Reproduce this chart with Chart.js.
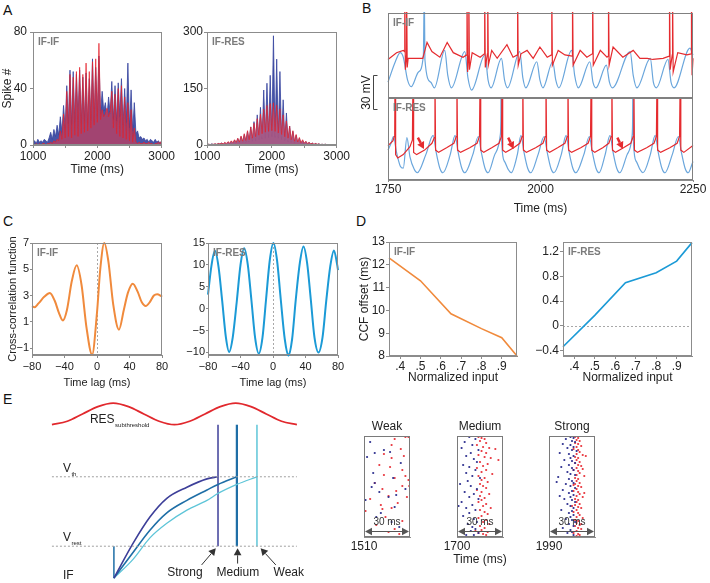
<!DOCTYPE html>
<html>
<head>
<meta charset="utf-8">
<script src="https://cdn.jsdelivr.net/npm/chart.js@4.4.1/dist/chart.umd.min.js"></script>
<style>
  html, body { margin: 0; padding: 0; background: #fff; }
  body { width: 710px; height: 583px; position: relative; overflow: hidden; font-family: Arial, "Liberation Sans", sans-serif; }
  canvas { position: absolute; }
  .panel { position: absolute; font-size: 14px; line-height: 14px; color: #111; }
</style>
</head>
<body>
<div class="panel" style="left:3px;top:3px">A</div>
<div class="panel" style="left:362px;top:1px">B</div>
<div class="panel" style="left:3px;top:214px">C</div>
<div class="panel" style="left:356px;top:214px">D</div>
<div class="panel" style="left:3px;top:392px">E</div>

<canvas id="aIf" style="left:0;top:20px" width="176" height="157"></canvas>
<canvas id="aRes" style="left:177px;top:20px" width="174" height="157"></canvas>
<canvas id="bTop" style="left:350px;top:0" width="360" height="115"></canvas>
<canvas id="bBot" style="left:350px;top:98px" width="360" height="118"></canvas>
<canvas id="cIf" style="left:0;top:233px" width="174" height="157"></canvas>
<canvas id="cRes" style="left:176px;top:233px" width="174" height="157"></canvas>
<canvas id="dIf" style="left:355px;top:232px" width="172" height="153"></canvas>
<canvas id="dRes" style="left:527px;top:232px" width="175" height="153"></canvas>
<canvas id="eSchema" style="left:0;top:390px" width="340" height="193"></canvas>
<canvas id="rWeak" style="left:344px;top:418px" width="78" height="133"></canvas>
<canvas id="rMed" style="left:430px;top:418px" width="92" height="149"></canvas>
<canvas id="rStrong" style="left:529px;top:418px" width="78" height="133"></canvas>

<script>
// ---- A: spike histograms, 25 ms bins from 1000 ms ----
const binStart = 1000, binWidth = 25;
const ifIfBlue = [
  2, 3, 1, 4, 2, 3, 2, 4, 3, 2,
  5, 9, 4, 11, 6, 14, 7, 20, 9, 28,
  12, 42, 15, 53, 14, 52, 16, 50, 18, 53,
  15, 48, 17, 51, 14, 47, 18, 61, 16, 55,
  20, 63, 22, 38, 24, 30, 20, 34, 22, 45,
  18, 42, 17, 44, 20, 47, 14, 40, 16, 58,
  12, 39, 10, 30, 8, 10, 5, 6, 4, 5,
  3, 4, 2, 4, 3, 2, 4, 2, 3, 1,
  3];
const ifIfRed = [
  1, 0, 1, 0, 1, 0, 1, 1, 0, 1,
  1, 2, 1, 3, 2, 4, 3, 10, 4, 22,
  5, 38, 6, 50, 5, 48, 7, 52, 6, 55,
  8, 50, 9, 58, 10, 52, 12, 59, 14, 61,
  16, 72, 18, 25, 20, 22, 26, 20, 24, 38,
  12, 36, 8, 40, 6, 42, 5, 34, 4, 30,
  3, 25, 2, 12, 2, 1, 2, 1, 1, 2,
  1, 1, 2, 1, 1, 0, 1, 1, 2, 1,
  3];
const ifResBlue = [
  1, 2, 1, 3, 1, 3, 1, 4, 2, 5,
  2, 6, 2, 8, 3, 10, 3, 13, 4, 17,
  5, 22, 6, 28, 7, 36, 8, 48, 10, 62,
  12, 80, 14, 100, 16, 146, 18, 164, 20, 185,
  22, 290, 20, 228, 18, 195, 14, 120, 12, 85,
  9, 50, 7, 36, 5, 26, 4, 18, 3, 12,
  3, 9, 2, 7, 2, 5, 1, 4, 1, 3,
  1, 2, 1, 2, 1, 1, 1, 1, 0, 1,
  1];
const ifResRed = [
  1, 2, 1, 2, 2, 3, 2, 4, 3, 5,
  3, 7, 4, 9, 5, 11, 6, 14, 7, 18,
  8, 24, 10, 30, 12, 38, 14, 48, 18, 58,
  22, 70, 26, 82, 30, 95, 34, 105, 36, 110,
  38, 112, 36, 106, 32, 96, 28, 80, 22, 64,
  18, 50, 14, 38, 10, 28, 8, 20, 6, 14,
  5, 10, 4, 7, 3, 5, 2, 4, 2, 3,
  1, 2, 1, 2, 1, 1, 1, 1, 1, 1,
  1];
const aXTicks = [1000, 1500, 2000, 2500, 3000];
const aXLabels = ['1000', '', '2000', '', '3000'];
const aIfYTicks = [0, 40, 80];
const aResYTicks = [0, 150, 300];

// ---- B: membrane traces [time ms, mV] ----
const bIfRed = [[1750,-41],[1764,-35],[1775,-33],[1777,-34],[1777.5,20],[1778.5,-50],[1780,-38],[1780.5,20],[1781.5,-48],[1783,-40],[1807,-40],[1814,-26],[1822,-34],[1835,-39],[1847,-26],[1857,-35],[1873,-39],[1879,-37],[1879.5,20],[1880.5,-52],[1882,-38],[1882.5,20],[1883.5,-50],[1888,-35],[1901,-39],[1908,-36],[1908.5,20],[1909.5,-48],[1913,-36],[1913.5,20],[1914.5,-46],[1920,-33],[1929,-40],[1945,-28],[1955,-39],[1962,-37],[1962.5,20],[1963.5,-46],[1968,-36],[1978,-33],[1988,-40],[1999,-30],[2011,-39],[2018,-37],[2018.5,20],[2019.5,-46],[2029,-33],[2040,-37],[2052,-38],[2052.5,20],[2053.5,-46],[2065,-33],[2076,-39],[2085,-36],[2085.5,20],[2086.5,-46],[2098,-33],[2109,-39],[2111,-38],[2111.5,20],[2112.5,-46],[2119,-30],[2135,-39],[2152,-33],[2163,-40],[2175,-40],[2184,-41],[2201,-40],[2211,-38],[2211.5,20],[2212.5,-50],[2216,-37],[2216.5,20],[2217.5,-52],[2225,-35],[2240,-37],[2247,-36],[2247.5,20],[2248.5,-55],[2250,-40]];
const bIfBlue = [[1750,-61],[1762,-43],[1770,-35],[1775,-39],[1782,-59],[1788,-65],[1800,-52],[1808,-37],[1809.5,20],[1810.5,-41],[1820,-61],[1826,-66],[1843,-33],[1848,-55],[1854,-66],[1876,-34],[1881,-57],[1887,-68],[1909,-37],[1914,-59],[1919,-66],[1936,-40],[1941,-59],[1946,-66],[1966,-34],[1971,-57],[1976,-66],[1994,-43],[1999,-59],[2004,-66],[2020,-43],[2025,-59],[2030,-66],[2051,-33],[2056,-55],[2062,-66],[2081,-43],[2086,-61],[2091,-66],[2108,-46],[2113,-61],[2118,-66],[2147,-34],[2152,-55],[2158,-66],[2180,-40],[2185,-61],[2190,-66],[2209,-41],[2214,-61],[2219,-66],[2245,-31],[2250,-37]];
const bResRed = [[1750,-42],[1758,-38],[1761,-33],[1761.5,20],[1762.5,-50],[1766,-53],[1775,-50],[1786,-43],[1790,-37],[1791,20],[1792,-48],[1797,-50],[1810,-46],[1822,-40],[1826,-35],[1827,20],[1828,-46],[1833,-48],[1846,-44],[1858,-40],[1862,-34],[1863,20],[1864,-46],[1869,-48],[1884,-44],[1896,-40],[1900,-34],[1901,20],[1902,-46],[1907,-48],[1920,-44],[1932,-40],[1936,-34],[1937,20],[1938,-46],[1943,-48],[1956,-44],[1966,-40],[1970,-34],[1971,20],[1972,-46],[1977,-48],[1992,-44],[2004,-40],[2008,-34],[2009,20],[2010,-46],[2015,-48],[2028,-44],[2040,-40],[2044,-34],[2045,20],[2046,-46],[2051,-48],[2066,-44],[2078,-40],[2082,-34],[2083,20],[2084,-46],[2089,-48],[2102,-44],[2112,-40],[2116,-34],[2117,20],[2118,-46],[2123,-48],[2136,-44],[2148,-40],[2152,-34],[2153,20],[2154,-46],[2159,-48],[2174,-44],[2186,-40],[2190,-34],[2191,20],[2192,-46],[2197,-48],[2212,-44],[2224,-40],[2228,-34],[2229,20],[2230,-46],[2235,-48],[2250,-42]];
const bResBlue = [[1750,-46],[1755,-40],[1759,-34],[1764,-48],[1770,-60],[1775,-62],[1781,-35],[1786,-52],[1793,-63],[1798,-66],[1812,-50],[1824,-33],[1829,-48],[1835,-62],[1840,-66],[1852,-50],[1860,-33],[1865,-48],[1871,-62],[1876,-66],[1889,-50],[1898,-34],[1903,-48],[1909,-62],[1914,-66],[1925,-50],[1934,-33],[1935,-20],[1935.5,20],[1936.5,-40],[1941,-56],[1947,-63],[1952,-66],[1962,-50],[1968,-33],[1973,-48],[1979,-62],[1984,-66],[1996,-50],[2006,-34],[2011,-48],[2017,-62],[2022,-66],[2034,-50],[2042,-33],[2047,-48],[2053,-62],[2058,-66],[2071,-50],[2080,-34],[2085,-48],[2091,-62],[2096,-66],[2106,-50],[2114,-33],[2119,-48],[2125,-62],[2130,-66],[2142,-50],[2150,-34],[2151,-20],[2151.5,20],[2152.5,-40],[2157,-56],[2163,-63],[2168,-66],[2180,-50],[2188,-33],[2193,-48],[2199,-62],[2204,-66],[2216,-50],[2226,-34],[2231,-48],[2237,-62],[2242,-66],[2250,-56]];
const bXTicks = [1750, 2000, 2250];
const bArrows = [[1799, -35, 1809, -45], [1947, -35, 1956, -45], [2126, -35, 2135, -45]];

// ---- C: cross-correlation [lag ms, value] ----
const cIfIf = [[-80,2.2],[-77,2.1],[-72,2.4],[-65,2.9],[-58,3.2],[-52,2.6],[-47,1.7],[-42,1.1],[-37,1.9],[-31,4.1],[-25,5.3],[-19,3.8],[-13,0.6],[-6,-1.5],[0,1.7],[4,5.0],[9,7.0],[14,5.6],[20,2.3],[27,0.4],[33,1.9],[38,3.2],[44,3.9],[50,3.3],[55,2.5],[60,2.2],[65,2.5],[70,3.0],[74,3.1],[78,3.0],[80,2.9]];
const cIfRes = [[-80,3.2],[-76,9.5],[-71.5,13.2],[-67,9.5],[-62.5,1.7],[-58,-6.5],[-54,-9.9],[-49.5,-6.5],[-44.5,1.8],[-40,10],[-35.5,13.8],[-31,10],[-26.5,1.8],[-22,-6.7],[-17.5,-10.3],[-13,-6.7],[-8.5,2.2],[-4,11],[0.5,15],[5,11],[9.5,2.2],[14.5,-7],[19,-10.7],[23.5,-7],[28,2],[33,10.4],[37.5,14.2],[42,10.4],[46.5,2.1],[51,-6.5],[56,-10],[61,-6.5],[65.5,1.7],[70.5,9.7],[75,13.3],[79,10],[80,8.8]];
const cXTicks = [-80, -40, 0, 40, 80];
const cXLabels = ['\u221280', '\u221240', '0', '40', '80'];
const cIfYTicks = [-1, 1, 3, 5, 7];
const cIfYLabels = ['\u22121', '1', '3', '5', '7'];
const cResYTicks = [-10, -5, 0, 5, 10, 15];
const cResYLabels = ['\u221210', '\u22125', '0', '5', '10', '15'];

// ---- D: CCF offset vs normalized input ----
const dInput = [0.345, 0.5, 0.65, 0.8, 0.9, 0.975];
const dIfIf = [12.3, 11.3, 9.85, 9.2, 8.8, 8.0];
const dIfRes = [-0.34, 0.17, 0.7, 0.86, 1.05, 1.35];
const dXTicks = [0.4, 0.5, 0.6, 0.7, 0.8, 0.9];
const dXLabels = ['.4', '.5', '.6', '.7', '.8', '.9'];
const dIfYTicks = [8, 9, 10, 11, 12, 13];
const dResYTicks = [-0.4, 0, 0.4, 0.8, 1.2];
const dResYLabels = ['\u22120.4', '0', '0.4', '0.8', '1.2'];

// ---- E: schematic (arbitrary time / voltage units) ----
const resT = [0, 6.25, 12.5, 18.75, 25, 31.25, 37.5, 43.75, 50, 56.25, 62.5, 68.75, 75, 81.25, 87.5, 93.75, 100];
const resV = [1.75, 1.80, 1.905, 2.01, 2.06, 2.01, 1.905, 1.80, 1.75, 1.80, 1.905, 2.01, 2.06, 2.01, 1.905, 1.80, 1.75];
const ifT = [25.3, 33.1, 40, 46.9, 55.1, 63.3, 67.8, 75.5, 83.7];
const ifStrong = [-0.46, 0.04, 0.42, 0.69, 0.85, 0.97, 1.0];
const ifMedium = [-0.46, -0.09, 0.23, 0.48, 0.66, 0.81, 0.89, 1.0];
const ifWeak = [-0.46, -0.19, 0.12, 0.33, 0.52, 0.66, 0.76, 0.89, 1.0];
const fireT = [67.8, 75.5, 83.7];
const vTh = 1, vRest = 0, vTop = 1.75, vStart = -0.46, ifOnset = 25.3;

// ---- E: rasters [time ms, trial] ----
const weakBlue = [[1514,6],[1517,17],[1523,14],[1512,21],[1527,16],[1516,37],[1517,47],[1515,51],[1520,56],[1531,59],[1511,64],[1526,61],[1529,42],[1534,27],[1521,77],[1528,86],[1533,91],[1518,81],[1530,71],[1537,53]];
const weakRed = [[1530,3],[1537,1],[1539,1],[1528,9],[1534,13],[1523,18],[1528,22],[1536,20],[1520,29],[1527,31],[1535,34],[1523,39],[1530,42],[1537,40],[1539,44],[1517,47],[1535,50],[1539.5,50],[1522,53],[1531,55],[1526,60],[1514,63],[1532,67],[1528,72],[1522,73],[1524,81],[1511,75],[1535,85],[1530,93],[1533,98],[1521,69],[1538,61],[1518,89],[1526,96]];
const medBlue = [[1708,1],[1712,3],[1705,6],[1710,9],[1703,12],[1714,14],[1709,17],[1706,20],[1711,23],[1713,26],[1704,29],[1708,31],[1712,34],[1706,37],[1710,40],[1715,42],[1707,45],[1702,48],[1709,50],[1713,53],[1705,56],[1711,58],[1708,61],[1714,63],[1703,66],[1710,69],[1706,72],[1712,74],[1708,77],[1704,80],[1711,83],[1713,86],[1707,88],[1710,91],[1712,93],[1701,70],[1709,95],[1714,97],[1706,99],[1711,99]];
const medRed = [[1714,1],[1716,2],[1718,3],[1715,5],[1719,7],[1713,9],[1717,11],[1721,12],[1725,13],[1716,15],[1719,17],[1714,19],[1718,21],[1722,22],[1727,24],[1715,26],[1720,28],[1717,30],[1713,32],[1719,34],[1716,36],[1723,38],[1714,40],[1718,42],[1716,44],[1720,46],[1715,48],[1717,50],[1719,52],[1713,54],[1716,56],[1721,58],[1715,60],[1718,62],[1716,64],[1714,66],[1719,68],[1717,70],[1722,72],[1715,74],[1718,76],[1720,78],[1716,80],[1714,82],[1719,84],[1717,86],[1721,88],[1715,90],[1718,92],[1716,94],[1720,96],[1714,97],[1717,98],[1719,99],[1712,95]];
const strongBlue = [[2004,1],[2006,2],[2001,3],[2005,5],[2007,6],[1999,8],[2004,9],[2006,11],[2002,12],[2005,14],[2008,15],[1997,17],[2003,18],[2006,20],[2004,22],[2000,24],[2005,25],[2007,27],[2003,29],[1998,31],[2005,32],[2006,34],[2002,36],[2004,38],[2007,39],[1996,41],[2003,43],[2005,45],[2006,47],[2001,48],[2004,50],[2007,52],[1999,54],[2005,55],[2003,57],[2006,59],[2004,61],[2000,63],[2005,64],[2007,66],[2002,68],[2004,70],[2006,72],[1998,74],[2005,75],[2003,77],[2006,79],[2004,81],[2001,83],[2005,84],[2007,86],[2003,88],[2006,90],[1999,92],[2004,94],[2005,96],[2002,97],[2006,99],[1995,46],[1997,60]];
const strongRed = [[2007,1],[2009,2],[2008,4],[2010,5],[2007,7],[2009,8],[2011,10],[2008,11],[2006,13],[2009,14],[2010,16],[2008,18],[2012,19],[2007,21],[2009,22],[2008,24],[2010,26],[2007,27],[2009,29],[2011,30],[2008,32],[2006,34],[2009,35],[2010,37],[2008,39],[2013,40],[2007,42],[2009,43],[2008,45],[2010,47],[2007,48],[2009,50],[2011,51],[2008,53],[2006,55],[2009,56],[2010,58],[2008,60],[2012,61],[2007,63],[2009,64],[2008,66],[2010,68],[2007,69],[2009,71],[2011,72],[2008,74],[2006,76],[2009,77],[2010,79],[2008,81],[2012,82],[2007,84],[2009,85],[2008,87],[2010,89],[2007,90],[2009,92],[2011,93],[2008,95],[2006,97],[2009,98],[2010,99],[2008,100],[2013,57],[2012,33],[2011,88],[2014,20],[2005,70],[2006,49]];

// ---- styling ----
const FONT = 'Arial, "Liberation Sans", sans-serif';
const AXIS = '#8c8c8c';
const RED = '#e52b2f', BLUE_A = '#37459f', BLUE_B = '#6aa6dc';
const ORANGE = '#f08a3c', CYAN = '#1b9ad6';

Chart.defaults.font.family = FONT;
Chart.defaults.font.size = 12;
Chart.defaults.color = '#222';
Chart.defaults.animation = false;
Chart.defaults.responsive = false;
Chart.defaults.plugins.legend.display = false;
Chart.defaults.plugins.tooltip.enabled = false;

function arrow(ctx, x1, y1, x2, y2, color, lw, head) {
  const ang = Math.atan2(y2 - y1, x2 - x1);
  const bx = x2 - head * Math.cos(ang), by = y2 - head * Math.sin(ang);
  ctx.strokeStyle = color; ctx.fillStyle = color; ctx.lineWidth = lw;
  ctx.beginPath(); ctx.moveTo(x1, y1); ctx.lineTo(bx, by); ctx.stroke();
  const s = head * 0.55;
  ctx.beginPath();
  ctx.moveTo(x2, y2);
  ctx.lineTo(bx + s * Math.sin(ang), by - s * Math.cos(ang));
  ctx.lineTo(bx - s * Math.sin(ang), by + s * Math.cos(ang));
  ctx.closePath(); ctx.fill();
}

// frames, inner tags, dotted zero lines and annotations
const decor = {
  id: 'decor',
  beforeDatasetsDraw(chart, args, o) {
    const { ctx, chartArea: a, scales: { x, y } } = chart;
    ctx.save();
    ctx.strokeStyle = '#a8a8a8'; ctx.lineWidth = 1; ctx.setLineDash([2, 2]);
    if (o.zeroX) {
      const px = Math.round(x.getPixelForValue(0)) + 0.5;
      ctx.beginPath(); ctx.moveTo(px, a.top); ctx.lineTo(px, a.bottom); ctx.stroke();
    }
    if (o.zeroY) {
      const py = Math.round(y.getPixelForValue(0)) + 0.5;
      ctx.beginPath(); ctx.moveTo(a.left, py); ctx.lineTo(a.right, py); ctx.stroke();
    }
    ctx.restore();
  },
  afterDraw(chart, args, o) {
    const { ctx, chartArea: a, scales: { x, y } } = chart;
    ctx.save();
    if (o.frame) {
      ctx.strokeStyle = o.frame; ctx.lineWidth = 1;
      ctx.strokeRect(Math.round(a.left) + 0.5, Math.round(a.top) + 0.5,
        Math.round(a.right - a.left) - 1, Math.round(a.bottom - a.top) - 1);
    }
    if (o.tag) {
      ctx.font = 'bold 10px ' + FONT; ctx.fillStyle = '#7b7b7b';
      ctx.textAlign = 'left'; ctx.textBaseline = 'top';
      ctx.fillText(o.tag, a.left + 5, a.top + 5);
    }
    if (o.heading) {
      ctx.font = '12px ' + FONT; ctx.fillStyle = '#222';
      ctx.textAlign = 'center'; ctx.textBaseline = 'alphabetic';
      ctx.fillText(o.heading, (a.left + a.right) / 2, a.top - 6);
    }
    if (o.xtitle) {
      ctx.font = '12px ' + FONT; ctx.fillStyle = '#222';
      ctx.textAlign = 'center'; ctx.textBaseline = 'middle';
      ctx.fillText(o.xtitle, (a.left + a.right) / 2, a.bottom + 23);
    }
    if (o.ytitle) {
      ctx.save();
      ctx.translate(o.ytitle.x, (a.top + a.bottom) / 2);
      ctx.rotate(-Math.PI / 2);
      ctx.font = o.ytitle.size + 'px ' + FONT; ctx.fillStyle = '#222';
      ctx.textAlign = 'center'; ctx.textBaseline = 'middle';
      ctx.fillText(o.ytitle.text, 0, 0);
      ctx.restore();
    }
    if (o.scaleBar) {
      const sb = o.scaleBar;
      const bx = a.left + sb.dx + 0.5;
      const y0 = Math.round(y.getPixelForValue(sb.from)) + 0.5;
      const y1 = Math.round(y.getPixelForValue(sb.from - sb.len)) + 0.5;
      ctx.strokeStyle = '#444'; ctx.lineWidth = 1;
      ctx.beginPath(); ctx.moveTo(bx + 4, y0); ctx.lineTo(bx, y0); ctx.lineTo(bx, y1); ctx.lineTo(bx + 4, y1); ctx.stroke();
      ctx.save();
      ctx.translate(bx - 7, (y0 + y1) / 2); ctx.rotate(-Math.PI / 2);
      ctx.font = '12px ' + FONT; ctx.fillStyle = '#222';
      ctx.textAlign = 'center'; ctx.textBaseline = 'middle';
      ctx.fillText(sb.label, 0, 0);
      ctx.restore();
    }
    (o.arrows || []).forEach(r => arrow(ctx,
      x.getPixelForValue(r.pts[0]), y.getPixelForValue(r.pts[1]),
      x.getPixelForValue(r.pts[2]), y.getPixelForValue(r.pts[3]),
      r.color, r.width, r.head));
    (o.texts || []).forEach(t => {
      const px = x.getPixelForValue(t.x), py = y.getPixelForValue(t.y);
      ctx.font = (t.size || 12) + 'px ' + FONT; ctx.fillStyle = '#222';
      ctx.textAlign = t.align || 'left'; ctx.textBaseline = 'middle';
      ctx.fillText(t.text, px, py);
      if (t.sub) {
        const w = ctx.measureText(t.text).width;
        ctx.font = (t.subSize || 6) + 'px ' + FONT; ctx.textAlign = 'left';
        ctx.fillText(t.sub, px + w + 0.5, py + 5);
      }
    });
    if (o.span) {
      const py = Math.round(y.getPixelForValue(o.span.y)) + 0.5;
      arrow(ctx, (a.left + a.right) / 2, py, a.left + 1, py, '#555', 1, 7);
      arrow(ctx, (a.left + a.right) / 2, py, a.right - 1, py, '#555', 1, 7);
      ctx.font = '10px ' + FONT; ctx.fillStyle = '#333';
      ctx.textAlign = 'center'; ctx.textBaseline = 'middle';
      ctx.fillText(o.span.label, (a.left + a.right) / 2, y.getPixelForValue(o.span.ly));
    }
    ctx.restore();
  }
};
Chart.register(decor);

const el = id => document.getElementById(id);
const pts = arr => arr.map(p => ({ x: p[0], y: p[1] }));
const zip = (xs, ys) => ys.map((v, i) => ({ x: xs[i], y: v }));

function xAxis(c) {
  return {
    type: 'linear', position: 'bottom', min: c.min, max: c.max,
    afterBuildTicks: s => { s.ticks = c.ticks.map(v => ({ value: v })); },
    afterFit: s => { s.height = c.h; },
    grid: { drawOnChartArea: false, drawTicks: c.tl > 0, tickLength: c.tl, color: AXIS },
    border: { color: AXIS },
    ticks: { padding: c.pad, maxRotation: 0, autoSkip: false, font: { size: c.fs || 12 }, callback: (v, i) => c.labels[i] },
    title: { display: !!c.title, text: c.title || '', padding: 0, font: { size: c.tfs || 12 } }
  };
}
function yAxis(c) {
  return {
    type: 'linear', position: 'left', min: c.min, max: c.max,
    afterBuildTicks: s => { s.ticks = c.ticks.map(v => ({ value: v })); },
    afterFit: s => { s.width = c.w; },
    grid: { drawOnChartArea: false, drawTicks: c.tl > 0, tickLength: c.tl, color: AXIS },
    border: { color: AXIS },
    ticks: { padding: c.pad, autoSkip: false, font: { size: c.fs || 12 }, callback: (v, i) => c.labels[i] },
    title: { display: !!c.title, text: c.title || '', padding: { top: c.tpad || 0, bottom: 0 }, font: { size: c.tfs || 12 } }
  };
}

// ---------- A ----------
function histSet(values, line, fill, order) {
  return {
    data: values.map((v, i) => ({ x: binStart + i * binWidth, y: v })),
    borderColor: line, backgroundColor: fill, borderWidth: 0.8,
    pointRadius: 0, fill: 'origin', tension: 0, order: order
  };
}
function histChart(id, blue, red, yMax, yTicks, tag, yw, ypad, yTitle, redFill) {
  new Chart(el(id), {
    type: 'line',
    data: { datasets: [
      histSet(red, 'rgba(229,35,45,0.9)', redFill, 1),
      histSet(blue, BLUE_A, 'rgba(55,69,159,0.92)', 2)
    ] },
    options: {
      layout: { padding: { top: 12, right: 14 } },
      scales: {
        x: xAxis({ min: 1000, max: 3000, ticks: aXTicks, labels: aXLabels, h: 32, tl: 3, pad: 1, title: 'Time (ms)' }),
        y: yAxis({ min: 0, max: yMax, ticks: yTicks, labels: yTicks.map(String), w: yw, tl: 3, pad: ypad, title: yTitle })
      },
      plugins: { decor: { frame: AXIS, tag: tag } }
    }
  });
}
histChart('aIf', ifIfBlue, ifIfRed, 80, aIfYTicks, 'IF-IF', 33, 3, 'Spike #', 'rgba(236,55,70,0.55)');
histChart('aRes', ifResBlue, ifResRed, 300, aResYTicks, 'IF-RES', 30, 1, null, 'rgba(240,95,110,0.55)');

// ---------- B ----------
function trace(arr, color, mode, order) {
  return {
    data: pts(arr), showLine: true, borderColor: color, borderWidth: 1.2,
    pointRadius: 0, cubicInterpolationMode: mode, tension: 0, clip: 1, order: order
  };
}
new Chart(el('bTop'), {
  type: 'scatter',
  data: { datasets: [trace(bIfRed, RED, 'default', 1), trace(bIfBlue, BLUE_B, 'monotone', 2)] },
  options: {
    layout: { padding: { left: 38, right: 17, top: 13, bottom: 17 } },
    scales: { x: { type: 'linear', min: 1750, max: 2250, display: false }, y: { type: 'linear', min: -75, max: 0, display: false } },
    plugins: { decor: { frame: '#808080', tag: 'IF-IF', scaleBar: { dx: -15, from: -55, len: 30, label: '30 mV' } } }
  }
});
new Chart(el('bBot'), {
  type: 'scatter',
  data: { datasets: [trace(bResRed, RED, 'default', 1), trace(bResBlue, BLUE_B, 'monotone', 2)] },
  options: {
    layout: { padding: { left: 38, right: 17, top: 0, bottom: 0 } },
    scales: {
      x: xAxis({ min: 1750, max: 2250, ticks: bXTicks, labels: bXTicks.map(String), h: 36, tl: 2, pad: 0, title: 'Time (ms)' }),
      y: { type: 'linear', min: -72.4, max: 0, display: false }
    },
    plugins: { decor: {
      frame: '#808080', tag: 'IF-RES',
      arrows: bArrows.map(p => ({ pts: p, color: RED, width: 2.5, head: 7 }))
    } }
  }
});

// ---------- C ----------
function ccfChart(id, data, color, yMin, yMax, yTicks, yLabels, tag, yTitle) {
  new Chart(el(id), {
    type: 'scatter',
    data: { datasets: [{
      data: pts(data), showLine: true, borderColor: color, borderWidth: 2,
      pointRadius: 0, cubicInterpolationMode: 'monotone', clip: 3
    }] },
    options: {
      layout: { padding: { top: 10, right: 12 } },
      scales: {
        x: xAxis({ min: -80, max: 80, ticks: cXTicks, labels: cXLabels, h: 35, tl: 3, pad: 2, fs: 11, tfs: 11, title: 'Time lag (ms)' }),
        y: yAxis({ min: yMin, max: yMax, ticks: yTicks, labels: yLabels, w: 32, tl: 2, pad: 1, fs: 11 })
      },
      plugins: { decor: { frame: AXIS, tag: tag, zeroX: true, ytitle: yTitle ? { text: yTitle, x: 13, size: 11 } : null } }
    }
  });
}
ccfChart('cIf', cIfIf, ORANGE, -1.53, 7, cIfYTicks, cIfYLabels, 'IF-IF', 'Cross-correlation function');
ccfChart('cRes', cIfRes, CYAN, -10.6, 15, cResYTicks, cResYLabels, 'IF-RES', null);

// ---------- D ----------
function offsetChart(id, values, color, yMin, yMax, yTicks, yLabels, yw, tag, yTitle, zeroY) {
  new Chart(el(id), {
    type: 'scatter',
    data: { datasets: [{
      data: zip(dInput, values), showLine: true, borderColor: color, borderWidth: 1.6,
      pointRadius: 0, tension: 0, clip: 2
    }] },
    options: {
      layout: { padding: { top: 10, right: 10 } },
      scales: {
        x: xAxis({ min: 0.345, max: 0.975, ticks: dXTicks, labels: dXLabels, h: 29, tl: 3, pad: 0, title: 'Normalized input' }),
        y: yAxis({ min: yMin, max: yMax, ticks: yTicks, labels: yLabels, w: yw, tl: 3, pad: 1, tpad: 2, title: yTitle })
      },
      plugins: { decor: { frame: AXIS, tag: tag, zeroY: zeroY } }
    }
  });
}
offsetChart('dIf', dIfIf, ORANGE, 8, 13, dIfYTicks, dIfYTicks.map(String), 34, 'IF-IF', 'CCF offset (ms)', false);
offsetChart('dRes', dIfRes, CYAN, -0.49, 1.36, dResYTicks, dResYLabels, 36, 'IF-RES', null, true);

// ---------- E schematic ----------
const STRONG = '#3d3f99', MEDIUM = '#1e6ea6', WEAK = '#5ec5d8', GUIDE = '#a0a0a0';
const seg = (x1, y1, x2, y2) => [{ x: x1, y: y1 }, { x: x2, y: y2 }];
const path = (data, color, w, extra) => Object.assign({
  data: data, showLine: true, borderColor: color, borderWidth: w, pointRadius: 0
}, extra || {});
new Chart(el('eSchema'), {
  type: 'scatter',
  data: { datasets: [
    path(seg(0, vTh, 100, vTh), GUIDE, 1, { borderDash: [2, 2] }),
    path(seg(0, vRest, 100, vRest), GUIDE, 1, { borderDash: [2, 2] }),
    path(zip(resT, resV), '#e1282d', 1.8, { cubicInterpolationMode: 'monotone' }),
    path(zip(ifT, ifStrong), STRONG, 1.6, { cubicInterpolationMode: 'monotone' }),
    path(zip(ifT, ifMedium), MEDIUM, 1.6, { cubicInterpolationMode: 'monotone' }),
    path(zip(ifT, ifWeak), WEAK, 1.3, { cubicInterpolationMode: 'monotone' }),
    path(seg(fireT[0], vRest, fireT[0], vTop), STRONG, 1.5),
    path(seg(fireT[1], vRest, fireT[1], vTop), MEDIUM, 2.2),
    path(seg(fireT[2], vRest, fireT[2], vTop), WEAK, 1.5),
    path(seg(ifOnset, vStart, ifOnset, vRest), MEDIUM, 1.5)
  ] },
  options: {
    layout: { padding: 0 },
    scales: {
      x: { type: 'linear', min: -21.2, max: 117.6, display: false },
      y: { type: 'linear', min: -0.53, max: 2.25, display: false }
    },
    plugins: { decor: {
      texts: [
        { x: 15.5, y: 1.82, text: 'RES', sub: 'subthreshold', size: 12, subSize: 6 },
        { x: 4.5, y: 1.11, text: 'V', sub: 'th', size: 12, subSize: 6 },
        { x: 4.5, y: 0.12, text: 'V', sub: 'rest', size: 12, subSize: 6 },
        { x: 4.5, y: -0.43, text: 'IF', size: 12 },
        { x: 54.3, y: -0.375, text: 'Strong', align: 'center' },
        { x: 75.9, y: -0.375, text: 'Medium', align: 'center' },
        { x: 96.7, y: -0.375, text: 'Weak', align: 'center' }
      ],
      arrows: [
        { pts: [61.1, -0.27, 66.9, -0.03], color: '#333', width: 1, head: 7 },
        { pts: [75.8, -0.25, 75.8, -0.03], color: '#333', width: 1, head: 7 },
        { pts: [91.4, -0.27, 85.2, -0.03], color: '#333', width: 1, head: 7 }
      ]
    } }
  }
});

// ---------- E rasters ----------
function rasterChart(id, blue, red, t0, heading, xh, xTitle, padL, padR) {
  new Chart(el(id), {
    type: 'scatter',
    data: { datasets: [
      { data: pts(red), pointRadius: 1.1, pointBorderWidth: 0, backgroundColor: '#e8333b', order: 2 },
      { data: pts(blue), pointRadius: 1.1, pointBorderWidth: 0, backgroundColor: '#2d2f8f', order: 1 }
    ] },
    options: {
      layout: { padding: { left: padL, right: padR, top: 18 } },
      scales: {
        x: xAxis({ min: t0, max: t0 + 30, ticks: [t0], labels: [String(t0)], h: xh, tl: 0, pad: 2 }),
        y: { type: 'linear', min: 0, max: 101, reverse: true, display: false }
      },
      plugins: { decor: { frame: '#7a7a7a', heading: heading, xtitle: xTitle, span: { y: 95, ly: 86, label: '30 ms' } } }
    }
  });
}
rasterChart('rWeak', weakBlue, weakRed, 1510, 'Weak', 14, null, 20, 12);
rasterChart('rMed', medBlue, medRed, 1700, 'Medium', 30, 'Time (ms)', 27, 19);
rasterChart('rStrong', strongBlue, strongRed, 1990, 'Strong', 14, null, 20, 12);
</script>
</body>
</html>
